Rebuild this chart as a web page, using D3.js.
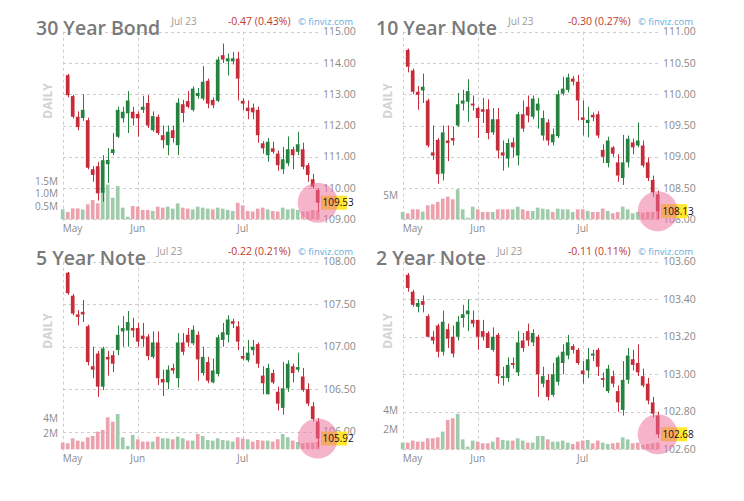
<!DOCTYPE html>
<html><head><meta charset="utf-8">
<script src="https://cdn.jsdelivr.net/npm/d3@7"></script>
<style>
html,body{margin:0;padding:0;background:#fff;}
svg{display:block;font-family:"Open Sans","Noto Sans",sans-serif;}
</style></head>
<body><svg id="c" width="744" height="501"></svg>
<script>
// ---------- DATA ----------
const titles = ["30 Year Bond","10 Year Note","5 Year Note","2 Year Note"];
const changes = ["-0.47 (0.43%)","-0.30 (0.27%)","-0.22 (0.21%)","-0.11 (0.11%)"];
const dateLabel = "Jul 23";
const monthLabels = ["May","Jun","Jul"];
const monthStartIdx = [0,15,36];

// 30 Year Bond
const bondOpen = [113.61,112.94,112.28,112.24,112.17,110.6,110.7,109.85,110.76,111.12,111.64,112.23,112.39,112.44,112.37,112.5,112.72,111.85,112.28,111.69,111.37,111.85,111.37,112.68,112.78,112.5,112.94,112.86,113.43,112.82,112.79,114.25,114.05,114.05,114.14,112.79,112.57,112.57,112.5,111.43,111.05,111.27,111.1,110.6,110.79,111.24,111.16,111.24,110.73,110.28,109.94];
const bondHigh = [113.65,112.98,112.45,113.0,112.25,110.7,110.84,111.05,111.28,111.76,112.6,112.6,113.1,112.6,112.45,112.95,112.97,112.45,112.35,112.0,112.0,112.0,112.87,112.82,113.1,113.25,113.2,113.9,113.5,112.9,114.2,114.62,114.3,114.35,114.36,112.87,112.8,112.7,112.6,111.5,111.6,111.48,111.2,111.32,111.65,111.32,111.8,111.45,110.8,110.45,110.0];
const bondLow = [112.9,112.22,111.85,112.15,110.6,110.2,109.6,109.56,110.16,111.05,111.6,112.1,111.76,112.0,111.64,112.4,111.92,111.8,111.7,111.27,111.05,111.45,111.05,112.1,112.55,112.45,112.85,112.8,112.55,112.55,112.75,114.0,113.6,113.95,112.8,112.5,112.2,112.2,111.45,111.1,110.84,111.1,110.55,110.45,110.7,110.6,111.05,110.6,110.2,109.98,109.24];
const bondClose = [112.97,112.28,111.95,112.5,110.65,110.42,109.83,110.89,110.9,111.24,112.5,112.44,112.8,112.23,112.23,112.6,112.0,112.3,111.76,111.53,111.8,111.6,112.73,112.4,112.6,113.18,113.04,113.4,112.7,112.65,114.11,114.11,114.15,114.15,113.5,112.7,112.46,112.42,111.69,111.27,111.48,111.16,110.73,110.92,111.24,111.05,111.4,110.68,110.42,110.04,109.53];
const bondVol = [0.39,0.29,0.43,0.43,0.39,0.59,0.76,0.63,1.24,1.37,0.85,1.31,0.46,0.10,0.52,0.50,0.37,0.37,0.33,0.50,0.46,0.50,0.42,0.63,0.46,0.42,0.39,0.50,0.46,0.42,0.39,0.46,0.42,0.37,0.33,0.65,0.55,0.33,0.31,0.42,0.46,0.39,0.33,0.31,0.46,0.39,0.42,0.37,0.31,0.31,0.37,0.34];
const bondVolDir = "grrrgrrrggggggrrrrgrrgggrrggggrggggrrrrrrgrrggggrrrr";

// 10 Year Note
const tenOpen = [110.71,110.38,110.04,110.06,109.9,109.07,109.27,108.73,109.26,109.3,109.5,109.85,109.88,109.85,109.78,109.76,109.76,109.39,109.6,109.07,108.97,109.23,109.02,109.68,109.8,109.64,109.74,109.34,109.55,109.23,109.33,110.01,110.07,110.25,110.2,109.63,109.54,109.67,109.68,109.11,108.9,109.15,108.91,108.66,108.91,109.23,109.18,109.18,108.91,108.63,108.4];
const tenHigh = [110.73,110.41,110.13,110.33,109.93,109.5,109.3,109.5,109.5,109.48,110.02,110.07,110.24,109.98,109.8,109.94,109.92,109.78,109.78,109.26,109.29,109.31,109.72,109.9,109.98,109.98,109.94,109.74,109.6,109.45,110.06,110.28,110.33,110.29,110.31,109.9,109.8,109.71,109.73,109.2,109.32,109.17,109.04,109.35,109.34,109.29,109.55,109.26,108.99,108.7,108.46];
const tenLow = [110.35,110.0,109.75,109.86,109.15,108.95,108.57,108.62,108.93,109.18,109.48,109.74,109.56,109.74,109.3,109.54,109.28,109.35,108.97,108.78,108.83,108.99,108.86,109.4,109.55,109.6,109.45,109.26,109.18,109.18,109.3,109.98,110.03,110.14,109.58,109.34,109.31,109.57,109.3,108.9,108.83,109.0,108.6,108.55,108.83,109.04,109.15,108.83,108.61,108.36,108.0];
const tenClose = [110.44,110.04,109.99,110.12,109.18,109.02,108.72,109.39,109.22,109.26,109.84,109.9,110.05,109.82,109.62,109.72,109.38,109.6,109.1,109.02,109.22,109.15,109.68,109.45,109.66,109.93,109.85,109.62,109.26,109.36,110.0,110.09,110.27,110.2,109.9,109.59,109.59,109.63,109.34,109.0,109.26,109.05,108.7,108.91,109.29,109.15,109.26,108.86,108.66,108.43,108.13];
const tenVol = [1.53,1.25,2.08,2.08,1.6,2.92,3.13,3.61,4.31,4.72,4.17,6.25,2.08,0.35,2.64,2.08,1.53,1.53,1.53,2.08,2.08,2.08,2.08,2.64,2.08,1.74,1.74,2.43,2.22,2.08,1.53,2.22,2.08,2.08,1.53,2.08,2.08,1.74,1.53,1.53,2.22,1.74,1.25,1.53,2.64,2.08,1.25,1.53,1.39,1.53,1.53,1.74];
const tenVolDir = "grrrgrrrrrrggggrrrgrrrggrrggggrggggrrgrrrgrrggggrrrr";

// 5 Year Note
const fiveOpen = [107.87,107.6,107.38,107.41,107.24,106.77,106.92,106.53,106.88,106.9,106.96,107.18,107.19,107.22,107.22,107.13,107.12,106.88,107.05,106.62,106.58,106.75,106.63,107.05,107.14,107.04,107.14,106.69,106.82,106.58,106.68,107.08,107.14,107.3,107.24,106.89,106.84,106.96,107.03,106.66,106.44,106.69,106.47,106.28,106.51,106.77,106.73,106.65,106.5,106.3,106.12];
const fiveHigh = [107.88,107.62,107.43,107.55,107.26,107.0,106.95,107.0,106.95,106.95,107.25,107.36,107.42,107.34,107.28,107.28,107.15,107.18,107.18,106.73,106.78,106.8,107.16,107.16,107.22,107.25,107.18,107.0,106.88,106.86,107.14,107.28,107.37,107.33,107.3,107.0,107.08,107.08,107.05,106.77,106.8,106.73,106.53,106.82,106.84,106.8,106.93,106.75,106.57,106.35,106.16];
const fiveLow = [107.61,107.37,107.25,107.29,106.78,106.63,106.41,106.49,106.66,106.7,106.9,107.0,107.0,107.11,107.0,107.0,106.84,106.86,106.55,106.42,106.5,106.68,106.52,106.9,107.0,107.02,106.6,106.66,106.57,106.57,106.65,107.0,107.05,107.22,106.96,106.84,106.82,106.9,106.75,106.44,106.44,106.56,106.25,106.2,106.47,106.58,106.7,106.47,106.3,106.12,105.82];
const fiveClose = [107.63,107.39,107.35,107.38,106.82,106.73,106.53,106.98,106.85,106.8,107.14,107.22,107.29,107.19,107.06,107.09,106.89,107.05,106.63,106.58,106.73,106.72,107.05,106.94,107.05,107.2,106.85,106.88,106.6,106.72,107.11,107.17,107.32,107.27,107.06,106.86,106.93,107.0,106.8,106.57,106.75,106.58,106.33,106.51,106.8,106.69,106.76,106.49,106.33,106.15,105.92];
const fiveVol = [0.87,0.78,1.43,1.13,1.0,1.56,1.73,2.29,2.51,4.16,3.59,4.59,1.56,0.43,1.86,1.3,1.0,1.0,1.0,1.65,1.43,1.43,1.3,1.65,1.43,1.13,1.13,1.99,1.73,1.21,1.13,1.43,1.21,1.13,1.0,1.56,1.39,1.3,1.0,1.21,1.13,1.13,1.0,1.3,1.99,1.56,1.13,0.95,0.78,0.87,0.87,1.0];
const fiveVolDir = "rrrrrrrrrrrggggrrrgrggrggrgrgggggggrrgrrrgrrggrgrrrr";

// 2 Year Note
const twoOpen = [103.53,103.44,103.36,103.39,103.31,103.2,103.26,103.12,103.24,103.2,103.2,103.3,103.32,103.29,103.29,103.23,103.22,103.13,103.21,102.98,102.98,103.06,103.01,103.18,103.23,103.17,103.2,102.95,102.97,102.89,102.96,103.06,103.1,103.15,103.13,103.02,103.02,103.1,103.13,102.98,102.91,102.99,102.91,102.81,102.97,103.08,103.06,102.99,102.95,102.85,102.78];
const twoHigh = [103.54,103.45,103.4,103.42,103.32,103.23,103.27,103.34,103.27,103.26,103.31,103.37,103.4,103.34,103.29,103.29,103.23,103.25,103.22,103.04,103.09,103.09,103.23,103.22,103.27,103.24,103.21,103.04,103.0,103.06,103.1,103.16,103.21,103.16,103.14,103.07,103.14,103.13,103.14,103.01,103.05,103.02,102.94,103.07,103.14,103.13,103.16,103.03,102.98,102.88,102.8];
const twoLow = [103.44,103.36,103.33,103.33,103.2,103.16,103.09,103.1,103.14,103.09,103.18,103.25,103.23,103.25,103.13,103.18,103.14,103.12,102.95,102.94,102.96,103.03,102.99,103.12,103.15,103.15,102.88,102.93,102.86,102.88,102.94,103.0,103.08,103.11,103.05,102.95,102.98,103.07,102.99,102.93,102.9,102.93,102.8,102.78,102.95,103.02,102.99,102.93,102.84,102.77,102.66];
const twoClose = [103.46,103.37,103.38,103.37,103.2,103.18,103.12,103.28,103.19,103.11,103.28,103.32,103.34,103.27,103.2,103.2,103.14,103.2,102.99,102.99,103.05,103.05,103.17,103.14,103.18,103.22,103.0,102.99,102.88,103.0,103.09,103.12,103.17,103.13,103.06,103.0,103.08,103.11,103.04,102.97,103.03,102.95,102.85,102.97,103.1,103.05,103.01,102.94,102.86,102.79,102.68];
const twoVol = [0.69,0.69,0.9,0.79,0.79,1.14,1.14,1.24,1.83,3.03,3.21,3.66,1.03,0.28,0.9,0.79,0.62,0.62,0.79,1.24,0.97,0.9,0.9,1.14,0.9,0.69,0.69,1.38,1.38,1.03,0.79,0.79,0.9,0.69,0.55,0.79,0.9,0.97,0.62,0.9,0.69,0.55,0.62,0.69,1.24,1.03,0.62,0.69,0.45,0.55,0.62,0.69];
const twoVolDir = "grrrrrrrgrrggggrrrgrggrggrgggrggggrrrgrrggrrggrrrrrr";

// price axis ticks
const bondTicks = [109,110,111,112,113,114,115];
const tenTicks = [108,108.5,109,109.5,110,110.5,111];
const fiveTicks = [106,106.5,107,107.5,108];
const twoTicks = [102.6,102.8,103.0,103.2,103.4,103.6];
// volume axis ticks (millions)
const bondVolTicks = [0.5,1.0,1.5];
const tenVolTicks = [5];
const fiveVolTicks = [2,4];
const twoVolTicks = [2,4];

// ---------- LAYOUT ----------
const panels = [
  {title:titles[0],change:changes[0],o:bondOpen,h:bondHigh,l:bondLow,c:bondClose,v:bondVol,vd:bondVolDir,ticks:bondTicks,yDom:[109,115],volTop:7.4,vTicks:bondVolTicks,vFmt:d=>d.toFixed(1)+"M",dx:0,dy:0},
  {title:titles[1],change:changes[1],o:tenOpen,h:tenHigh,l:tenLow,c:tenClose,v:tenVol,vd:tenVolDir,ticks:tenTicks,yDom:[108,111],volTop:39.1,vTicks:tenVolTicks,vFmt:d=>d+"M",dx:340,dy:0},
  {title:titles[2],change:changes[2],o:fiveOpen,h:fiveHigh,l:fiveLow,c:fiveClose,v:fiveVol,vd:fiveVolDir,ticks:fiveTicks,yDom:[105.793,108],volTop:24.4,vTicks:fiveVolTicks,vFmt:d=>d+"M",dx:0,dy:230},
  {title:titles[3],change:changes[3],o:twoOpen,h:twoHigh,l:twoLow,c:twoClose,v:twoVol,vd:twoVolDir,ticks:twoTicks,yDom:[102.6,103.6],volTop:19.4,vTicks:twoVolTicks,vFmt:d=>d+"M",dx:340,dy:230}
];

const TOP = 31.7, BOT = 219.3, GL = 63, GR = 321;
const UP = "#26823f", DOWN = "#c52d3b", VUP = "#9fcbab", VDOWN = "#eba2ac", GRID = "#cdcdcd", AX = "#8a8a8a";

const svg = d3.select("#c");
const nSlots = bondVol.length;
const x = d3.scaleBand().domain(d3.range(nSlots)).range([60.2, 320.2]).paddingInner(0.26).paddingOuter(0.13);
const cx = i => x(i) + x.bandwidth()/2;

panels.forEach(p => {
  const g = svg.append("g").attr("transform", `translate(${p.dx},${p.dy})`);
  const y = d3.scaleLinear().domain(p.yDom).range([BOT, TOP]);
  const yv = d3.scaleLinear().domain([0, p.volTop]).range([BOT, TOP]);

  // horizontal grid
  g.append("g").selectAll("line").data(p.ticks).join("line")
    .attr("x1", GL).attr("x2", GR)
    .attr("y1", d => Math.round(y(d)) + 0.5).attr("y2", d => Math.round(y(d)) + 0.5)
    .attr("stroke", GRID).attr("stroke-dasharray", "3,3");
  // vertical grid (month starts)
  g.append("g").selectAll("line").data(monthStartIdx).join("line")
    .attr("x1", d => Math.round(cx(d)) + 0.5).attr("x2", d => Math.round(cx(d)) + 0.5)
    .attr("y1", TOP).attr("y2", BOT + 2)
    .attr("stroke", GRID).attr("stroke-dasharray", "3,3");

  // header
  const t = g.append("text").attr("x", 36).attr("y", 35).attr("font-size", 19.5).attr("font-weight", 600)
    .attr("fill", "#7a7a7a").text(p.title);
  const tw = t.node().getComputedTextLength();
  g.append("text").attr("x", 36 + tw + 11).attr("y", 25).attr("font-size", 10).attr("fill", "#9a9a9a").text(dateLabel);
  g.append("text").attr("x", 290.5).attr("y", 25).attr("text-anchor", "end").attr("font-size", 10.5)
    .attr("fill", "#c0392b").text(p.change);
  g.append("text").attr("x", 298).attr("y", 25).attr("font-size", 9.5).attr("fill", "#62ade0").text("\u00a9 finviz.com");

  // DAILY
  g.append("text").attr("transform", `translate(52,101) rotate(-90)`).attr("text-anchor", "middle")
    .attr("font-size", 12).attr("font-weight", 700).attr("fill", "#d3d3d3").text("DAILY");

  // volume
  g.append("g").selectAll("rect").data(p.v).join("rect")
    .attr("x", (d,i) => x(i)).attr("width", x.bandwidth())
    .attr("y", d => yv(d)).attr("height", d => BOT - yv(d))
    .attr("fill", (d,i) => p.vd[i] === "g" ? VUP : VDOWN);

  // volume axis labels
  g.append("g").selectAll("text").data(p.vTicks).join("text")
    .attr("x", 58).attr("y", d => yv(d)).attr("dy", "0.35em").attr("text-anchor", "end")
    .attr("font-size", 10).attr("fill", AX).text(p.vFmt);

  // candles (slot 0 has no visible candle)
  const candles = p.o.map((o,i) => ({i: i + 1, o, h: p.h[i], l: p.l[i], c: p.c[i]}));
  const cg = g.append("g");
  cg.selectAll("line").data(candles).join("line")
    .attr("x1", d => Math.round(cx(d.i)) + 0.5).attr("x2", d => Math.round(cx(d.i)) + 0.5)
    .attr("y1", d => y(d.h)).attr("y2", d => y(d.l))
    .attr("stroke", d => d.c >= d.o ? UP : DOWN).attr("stroke-width", 1);
  cg.selectAll("rect").data(candles).join("rect")
    .attr("x", d => x(d.i)).attr("width", x.bandwidth())
    .attr("y", d => y(Math.max(d.o, d.c)))
    .attr("height", d => Math.max(1.5, Math.abs(y(d.o) - y(d.c))))
    .attr("fill", d => d.c >= d.o ? UP : DOWN);

  const last = candles[candles.length - 1];
  const ly = y(last.c);

  // price axis labels
  g.append("g").selectAll("text").data(p.ticks).join("text")
    .attr("x", 323).attr("y", d => y(d)).attr("dy", "0.35em")
    .attr("font-size", 10.5).attr("fill", AX).text(d => d.toFixed(2));

  // month labels
  g.append("g").selectAll("text").data(monthStartIdx).join("text")
    .attr("x", d => cx(d)).attr("y", BOT + 12.5)
    .attr("text-anchor", (d,k) => k === 0 ? "start" : "middle")
    .attr("font-size", 10).attr("fill", AX).text((d,k) => monthLabels[k]);

  // last price highlight
  g.append("rect").attr("x", 321).attr("y", ly - 7).attr("width", 26).attr("height", 14).attr("fill", "#ffe82e");
  g.append("circle").attr("cx", cx(last.i)).attr("cy", ly).attr("r", 20)
    .attr("fill", "#ee6a98").attr("fill-opacity", 0.5);
  g.append("text").attr("x", 322.5).attr("y", ly).attr("dy", "0.35em").attr("font-size", 10)
    .attr("fill", "#111").text(last.c.toFixed(2));
});
</script>
</body></html>
